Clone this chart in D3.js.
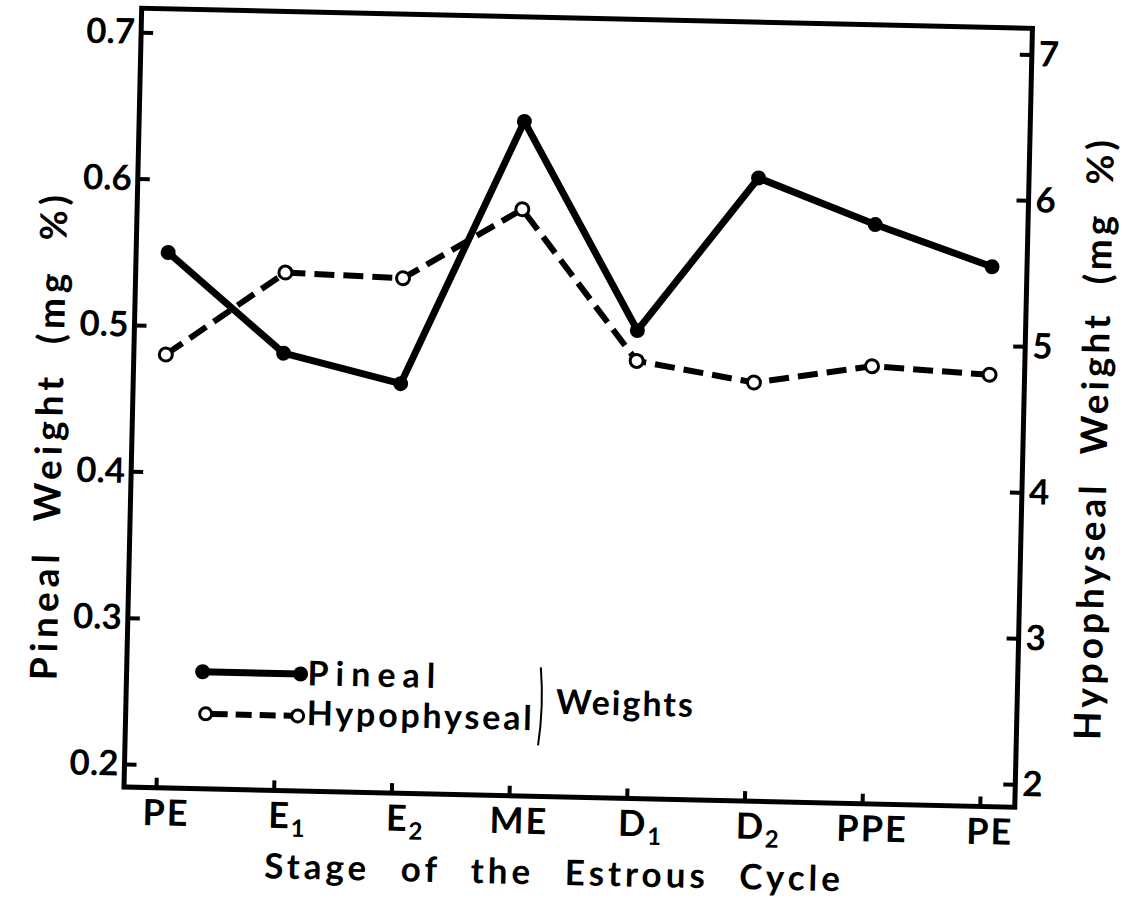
<!DOCTYPE html>
<html>
<head>
<meta charset="utf-8">
<script src="https://cdn.jsdelivr.net/npm/d3@7"></script>
<style>
  html, body { margin: 0; padding: 0; background: #fff; }
  svg { display: block; }
  text { font-family: "Lato", "DejaVu Sans", sans-serif; font-weight: 700; fill: #000; }
</style>
</head>
<body>
<script>
// ---- data ----
const categories = ["PE", "E1", "E2", "ME", "D1", "D2", "PPE", "PE"];
const pineal = [0.550, 0.483, 0.464, 0.645, 0.504, 0.610, 0.580, 0.553];
const hypophyseal = [4.81, 5.39, 5.37, 5.86, 4.84, 4.71, 4.84, 4.80];
const leftTicks = [0.2, 0.3, 0.4, 0.5, 0.6, 0.7];
const rightTicks = [2, 3, 4, 5, 6, 7];
const seriesNames = ["Pineal", "Hypophyseal"];

const W = 1145, H = 903;
const L = 124, R = 1015, T = 8, B = 787;

const svg = d3.select("body").append("svg").attr("width", W).attr("height", H);
svg.append("rect").attr("width", W).attr("height", H).attr("fill", "#fff");

// the whole printed figure is slightly rotated
const g = svg.append("g").attr("transform", `rotate(1.3, ${L}, ${B})`);

const x = d3.scalePoint().domain(d3.range(categories.length)).range([156, 980]);
const yL = d3.scaleLinear().domain([0.2, 0.7]).range([764, 32]);
const yR = d3.scaleLinear().domain([2, 7]).range([764, 34]);

// frame
g.append("path")
  .attr("d", `M${L},${T}L${R},${T}L${R},${B}L${L},${B}Z`)
  .attr("fill", "none").attr("stroke", "#000").attr("stroke-width", 5)
  .attr("stroke-linejoin", "miter");

// left axis
const axL = g.append("g").attr("transform", `translate(${L},0)`)
  .call(d3.axisLeft(yL).tickValues(leftTicks).tickFormat(d3.format(".1f"))
    .tickSizeInner(-12).tickSizeOuter(0).tickPadding(6));
// right axis
const axR = g.append("g").attr("transform", `translate(${R},0)`)
  .call(d3.axisRight(yR).tickValues(rightTicks).tickFormat(d3.format("d"))
    .tickSizeInner(-12).tickSizeOuter(0).tickPadding(7));
// bottom axis
const axB = g.append("g").attr("transform", `translate(0,${B})`)
  .call(d3.axisBottom(x).tickSizeInner(-10).tickSizeOuter(0).tickPadding(12)
    .tickFormat(() => ""));

[axL, axR, axB].forEach(a => {
  a.select(".domain").remove();
  a.selectAll(".tick line").attr("stroke", "#000").attr("stroke-width", 4);
  a.selectAll(".tick text").style("font-size", "35px")
    .style("font-family", "Lato, 'DejaVu Sans', sans-serif").style("font-weight", 700);
});

// x tick labels with subscripts
axB.selectAll(".tick text").each(function (d) {
  const t = d3.select(this);
  const lab = categories[d];
  const m = lab.match(/^([A-Z]+)(\d?)$/);
  t.text(null).style("font-size", "36px").style("letter-spacing", "2px");
  t.append("tspan").text(m[1]);
  if (m[2]) t.append("tspan").attr("dy", "0.35em").style("font-size", "24px").text(m[2]);
  t.attr("transform", `translate(${m[2] ? 14 : 10},0)`);
});

// lines
const lineP = d3.line().x((d, i) => x(i)).y(d => yL(d));
const lineH = d3.line().x((d, i) => x(i)).y(d => yR(d));

g.append("path").datum(hypophyseal).attr("d", lineH)
  .attr("fill", "none").attr("stroke", "#000").attr("stroke-width", 6)
  .attr("stroke-dasharray", "20,9");
g.append("path").datum(pineal).attr("d", lineP)
  .attr("fill", "none").attr("stroke", "#000").attr("stroke-width", 7)
  .attr("stroke-linejoin", "round");

g.selectAll("circle.p").data(pineal).join("circle").attr("class", "p")
  .attr("cx", (d, i) => x(i)).attr("cy", d => yL(d)).attr("r", 7.5).attr("fill", "#000");
g.selectAll("circle.h").data(hypophyseal).join("circle").attr("class", "h")
  .attr("cx", (d, i) => x(i)).attr("cy", d => yR(d)).attr("r", 6.5)
  .attr("fill", "#fff").attr("stroke", "#000").attr("stroke-width", 3);

// axis titles (start-anchored, reading bottom to top)
g.append("text")
  .attr("transform", `translate(54,682) rotate(-90)`)
  .style("font-size", "37px")
  .style("letter-spacing", "5px").style("word-spacing", "14px")
  .text("Pineal Weight (mg %)");
g.append("text")
  .attr("transform", `translate(1099,718) rotate(-90)`)
  .style("font-size", "37px")
  .style("letter-spacing", "4px").style("word-spacing", "14px")
  .text("Hypophyseal Weight (mg %)");
g.append("text")
  .attr("x", 556).attr("y", 875)
  .attr("text-anchor", "middle").style("font-size", "35px")
  .style("letter-spacing", "4px").style("word-spacing", "18px")
  .text("Stage of the Estrous Cycle");

// legend
const leg = g.append("g");
leg.append("line").attr("x1", 200).attr("x2", 298).attr("y1", 670).attr("y2", 670)
  .attr("stroke", "#000").attr("stroke-width", 7);
leg.selectAll("circle.lp").data([200, 298]).join("circle").attr("class", "lp")
  .attr("cx", d => d).attr("cy", 670).attr("r", 7.5).attr("fill", "#000");
leg.append("line").attr("x1", 204).attr("x2", 296).attr("y1", 712).attr("y2", 712)
  .attr("stroke", "#000").attr("stroke-width", 6).attr("stroke-dasharray", "16,8")
  .attr("stroke-dashoffset", -6);
leg.selectAll("circle.lh").data([204, 296]).join("circle").attr("class", "lh")
  .attr("cx", d => d).attr("cy", 712).attr("r", 6)
  .attr("fill", "#fff").attr("stroke", "#000").attr("stroke-width", 3);
leg.append("text").attr("x", 305).attr("y", 681).style("font-size", "34px")
  .style("letter-spacing", "7px").text(seriesNames[0]);
leg.append("text").attr("x", 305).attr("y", 721).style("font-size", "34px")
  .style("letter-spacing", "2.8px").text(seriesNames[1]);
leg.append("path").attr("d", "M538,658 Q542,697 537,736")
  .attr("fill", "none").attr("stroke", "#000").attr("stroke-width", 2);
leg.append("text").attr("x", 554).attr("y", 704).style("font-size", "34px")
  .style("letter-spacing", "2px").text("Weights");
</script>
</body>
</html>
